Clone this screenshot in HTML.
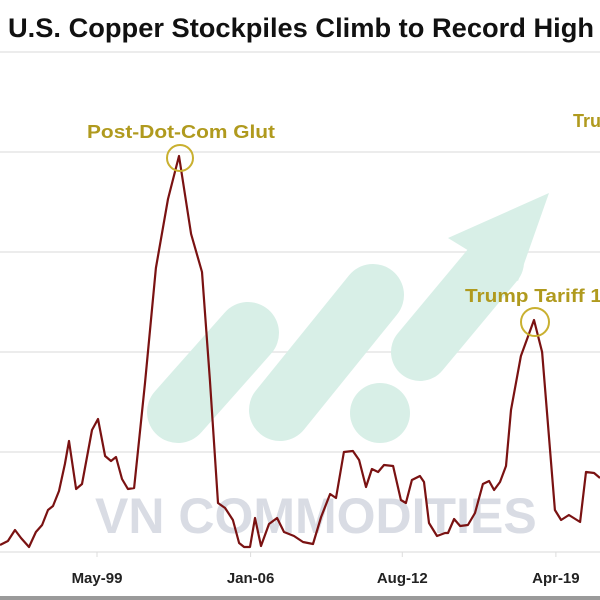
<!DOCTYPE html>
<html><head><meta charset="utf-8"><style>
html,body{margin:0;padding:0;background:#fff;}
svg{display:block;font-family:"Liberation Sans",sans-serif;}
</style></head><body>
<svg id="chart" width="600" height="600" viewBox="0 0 600 600">
<rect width="600" height="600" fill="#fff"/>
<text x="8" y="37" font-size="26.5" font-weight="bold" fill="#111" textLength="586" lengthAdjust="spacingAndGlyphs">U.S. Copper Stockpiles Climb to Record High</text>
<g id="grid"></g>
<g>
<line x1="178" y1="412" x2="248" y2="333" stroke="#d8efe7" stroke-width="62" stroke-linecap="round"/>
<line x1="280" y1="410" x2="373" y2="295" stroke="#d8efe7" stroke-width="62" stroke-linecap="round"/>
<circle cx="380" cy="413" r="30" fill="#d8efe7"/>
<line x1="420" y1="352" x2="495" y2="262" stroke="#d8efe7" stroke-width="58" stroke-linecap="round"/>
<polygon points="448,238 549,193 518,281" fill="#d8efe7"/>
<text x="95" y="533" font-size="50" font-weight="bold" fill="#d9dce4">VN COMMODITIES</text>
</g>
<g id="xaxis"></g>
<path id="line" fill="none" stroke="#7a1212" stroke-width="2.2" stroke-linejoin="round"/>
<g font-weight="bold" font-size="18" fill="#b09a1e">
<text x="87" y="138" textLength="188" lengthAdjust="spacingAndGlyphs">Post-Dot-Com Glut</text>
<circle cx="180" cy="158" r="13" fill="none" stroke="#c9b030" stroke-width="2"/>
<text x="465" y="302" textLength="137" lengthAdjust="spacingAndGlyphs">Trump Tariff 1</text>
<circle cx="535" cy="322" r="14" fill="none" stroke="#c9b030" stroke-width="2"/>
<text x="573" y="127">Trump</text>
</g>
<rect x="0" y="596" width="600" height="4" fill="#9a9a9a"/>
</svg>
<script>
// months since Jan-1995
const months=[1.5,5.6,9.3,12.4,16.6,20.2,23.4,26.5,29.1,32.2,35.3,37.4,41.1,44.2,49.4,52.5,56.2,59.3,61.9,65,68.1,71.3,73.9,77,82.7,89,94.7,101,106.7,110.8,115,118.7,122.8,126,128.6,131.7,134.3,137.4,141.6,145.8,149.4,154.6,159.3,164.5,168.7,173.4,176.5,180.6,185.3,188.5,192.1,195.2,198.4,201.5,206.2,210.3,212.9,216,220.2,222.3,224.9,229.1,233.3,234.8,238,241.1,245.2,248.9,253,256.2,258.8,261.9,265,267.6,272.8,279.6,283.8,290.5,293.7,297.8,303.6,306.7,310.9,314];
const values=[7,11,22,14,5,20,27,42,46,61,88,111,63,68,122,133,96,91,95,73,63,64,111,169,284,353,396,318,280,172,49,44,32,9,5,5,34,6,28,34,20,16,10,8,35,58,54,100,101,92,65,83,80,87,86,52,49,72,76,70,29,16,19,19,33,26,27,39,68,71,62,70,86,142,196,232,200,42,32,37,30,80,79,74];
const tickLabels=["May-99","Jan-06","Aug-12","Apr-19"];
const tickMonths=[52,132,211,291];
const gridValues=[0,100,200,300,400,500];
function xs(m){return 97+(m-52)*1.92;}
function ys(v){return 552-v;}
const NS="http://www.w3.org/2000/svg";
const grid=document.getElementById('grid');
gridValues.forEach(v=>{
 const l=document.createElementNS(NS,'line');
 
 
 l.setAttribute('x1',0);l.setAttribute('x2',600);
 l.setAttribute('y1',ys(v));l.setAttribute('y2',ys(v));
 l.setAttribute('stroke','#e6e6e6');l.setAttribute('stroke-width','1.5');
 grid.appendChild(l);
});
const xa=document.getElementById('xaxis');
tickLabels.forEach((t,i)=>{
 const x=xs(tickMonths[i]);
 const tk=document.createElementNS(NS,'line');
 
 
 tk.setAttribute('x1',x);tk.setAttribute('x2',x);tk.setAttribute('y1',552);tk.setAttribute('y2',557);
 tk.setAttribute('stroke','#ddd');
 xa.appendChild(tk);
 const tx=document.createElementNS(NS,'text');
 
 
 tx.setAttribute('x',x);tx.setAttribute('y',583);
 tx.setAttribute('text-anchor','middle');tx.setAttribute('font-size','15');
 tx.setAttribute('font-weight','bold');tx.setAttribute('fill','#222');
 tx.textContent=t;
 xa.appendChild(tx);
});
document.getElementById('line').setAttribute('d',months.map((m,i)=>(i?'L':'M')+xs(m).toFixed(1)+','+ys(values[i]).toFixed(1)).join(' '));
</script>
</body></html>
